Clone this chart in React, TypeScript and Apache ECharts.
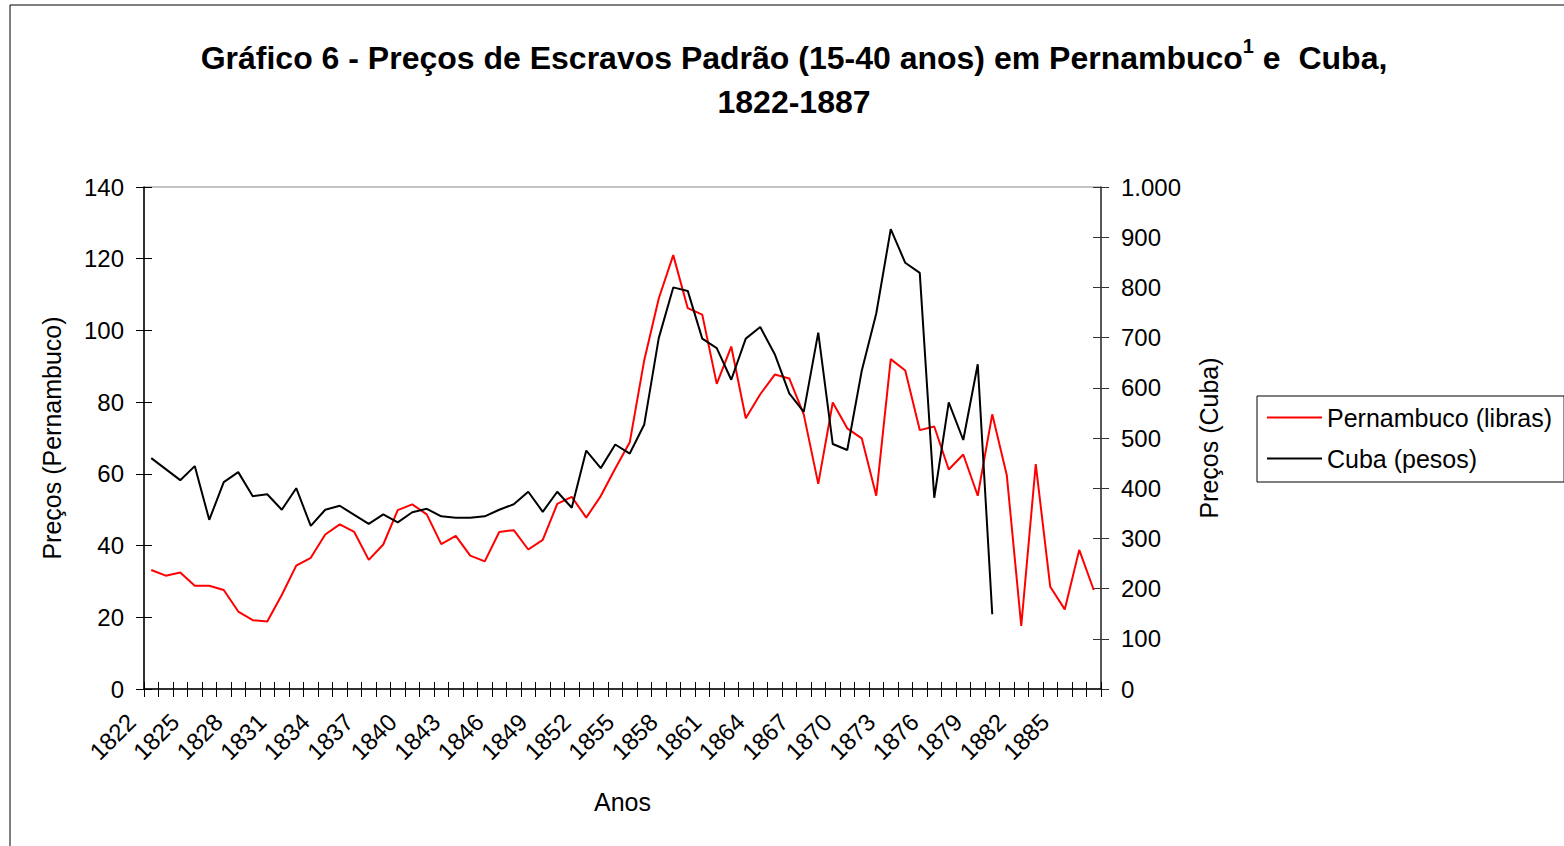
import React, { useEffect, useRef } from "react";
import * as echarts from "echarts";

const years: string[] = [];
for (let y = 1822; y <= 1887; y++) years.push(String(y));

const pernambuco = [
  33.2, 31.6, 32.5, 28.8, 28.8, 27.6, 21.6, 19.2, 18.8, 26.2,
  34.4, 36.6, 43.1, 45.9, 43.8, 36.0, 40.3, 49.9, 51.5, 48.7,
  40.4, 42.7, 37.2, 35.6, 43.8, 44.3, 38.9, 41.6, 51.6, 53.6,
  47.8, 53.8, 61.5, 68.8, 91.7, 108.9, 121.0, 106.2, 104.4, 85.1,
  95.5, 75.5, 82.2, 87.7, 86.6, 76.6, 57.2, 79.9, 72.7, 69.9,
  53.9, 92.0, 88.8, 72.2, 73.2, 61.2, 65.4, 53.9, 76.6, 59.7,
  17.6, 62.7, 28.5, 22.2, 38.8, 27.6,
];

const cuba = [
  460, 438, 416, 444, 337, 412, 432, 384, 388, 357,
  400, 325, 357, 365, 347, 329, 348, 332, 352, 359,
  344, 341, 341, 344, 357, 368, 393, 353, 393, 361,
  475, 440, 487, 469, 527, 699, 800, 793, 698, 679,
  616, 698, 721, 667, 589, 552, 710, 488, 476, 634,
  748, 916, 849, 829, 381, 571, 496, 647, 149,
];

const leftTicks = { min: 0, max: 140, interval: 20 };
const rightTicks = { min: 0, max: 1000, interval: 100 };

const FONT = "Liberation Sans, Arial, sans-serif";

export default function App() {
  const ref = useRef<HTMLDivElement>(null);
  useEffect(() => {
    if (!ref.current) return;
    const chart = echarts.init(ref.current, null, { renderer: "svg" });
    const axisLineBlack = { show: true, lineStyle: { color: "#000", width: 1.5 } };
    const option: any = {
      animation: false,
      backgroundColor: "#fff",
      textStyle: { fontFamily: FONT },
      title: {
        left: 789,
        top: 31,
        textAlign: "center",
        text:
          "{a|Gráfico 6 - Preços de Escravos Padrão (15-40 anos) em Pernambuco}{sup|1}{a| e  Cuba,}\n{a|1822-1887}",
        textStyle: {
          rich: {
            a: { fontFamily: FONT, fontSize: 32, fontWeight: "bold", color: "#000", lineHeight: 44 },
            sup: { fontFamily: FONT, fontSize: 20, fontWeight: "bold", color: "#000", lineHeight: 3, verticalAlign: "top" },
          },
        },
      },
      graphic: [
        {
          type: "rect",
          shape: { x: 10, y: 5, width: 1600, height: 900 },
          style: { fill: "none", stroke: "#000", lineWidth: 1 },
          silent: true,
        },
      ],
      legend: {
        orient: "vertical",
        left: 1257,
        top: 396,
        padding: [9, 12, 11, 10],
        borderColor: "#000",
        borderWidth: 1,
        itemWidth: 55,
        itemHeight: 2,
        itemGap: 16,
        icon: "rect",
        textStyle: { fontFamily: FONT, fontSize: 25, color: "#000" },
        data: ["Pernambuco (libras)", "Cuba (pesos)"],
      },
      grid: {
        left: 144,
        right: 463,
        top: 187,
        bottom: 157,
        show: true,
        borderColor: "#888",
        borderWidth: 1,
      },
      xAxis: [
        {
          type: "category",
          data: years,
          position: "bottom",
          boundaryGap: true,
          name: "Anos",
          nameLocation: "middle",
          nameGap: 100,
          nameTextStyle: { fontFamily: FONT, fontSize: 25, color: "#000" },
          axisLine: axisLineBlack,
          axisTick: { show: true, inside: false, length: 8, interval: 0, lineStyle: { color: "#000" } },
          axisLabel: {
            interval: 2,
            rotate: 45,
            margin: 9,
            padding: [0, 28, 0, 0],
            fontFamily: FONT,
            fontSize: 24,
            color: "#000",
          },
          splitLine: { show: false },
        },
        {
          type: "category",
          data: years,
          position: "bottom",
          boundaryGap: true,
          axisLine: { show: false },
          axisTick: { show: true, inside: true, length: 7, interval: 0, lineStyle: { color: "#000" } },
          axisLabel: { show: false },
          splitLine: { show: false },
        },
      ],
      yAxis: [
        {
          type: "value",
          position: "left",
          ...leftTicks,
          name: "Preços (Pernambuco)",
          nameLocation: "middle",
          nameGap: 80,
          nameRotate: 90,
          nameTextStyle: { fontFamily: FONT, fontSize: 25, color: "#000" },
          axisLine: axisLineBlack,
          axisTick: { show: true, inside: false, length: 8, lineStyle: { color: "#000" } },
          axisLabel: { fontFamily: FONT, fontSize: 24, color: "#000", margin: 20 },
          splitLine: { show: false },
        },
        {
          type: "value",
          position: "left",
          ...leftTicks,
          axisLine: { show: false },
          axisTick: { show: true, inside: true, length: 8, lineStyle: { color: "#000" } },
          axisLabel: { show: false },
          splitLine: { show: false },
        },
        {
          type: "value",
          position: "right",
          ...rightTicks,
          name: "Preços (Cuba)",
          nameLocation: "middle",
          nameGap: 95,
          nameRotate: 90,
          nameTextStyle: { fontFamily: FONT, fontSize: 25, color: "#000" },
          axisLine: { show: true, lineStyle: { color: "#333", width: 1.5 } },
          axisTick: { show: true, inside: false, length: 8, lineStyle: { color: "#333" } },
          axisLabel: {
            fontFamily: FONT,
            fontSize: 24,
            color: "#000",
            margin: 20,
            formatter: (v: number) => (v >= 1000 ? "1.000" : String(v)),
          },
          splitLine: { show: false },
        },
        {
          type: "value",
          position: "right",
          ...rightTicks,
          axisLine: { show: false },
          axisTick: { show: true, inside: true, length: 8, lineStyle: { color: "#333" } },
          axisLabel: { show: false },
          splitLine: { show: false },
        },
      ],
      series: [
        {
          name: "Pernambuco (libras)",
          type: "line",
          xAxisIndex: 0,
          yAxisIndex: 0,
          data: pernambuco,
          symbol: "none",
          lineStyle: { color: "#ff0000", width: 2 },
          itemStyle: { color: "#ff0000" },
        },
        {
          name: "Cuba (pesos)",
          type: "line",
          xAxisIndex: 0,
          yAxisIndex: 2,
          data: cuba,
          symbol: "none",
          lineStyle: { color: "#000", width: 2 },
          itemStyle: { color: "#000" },
        },
      ],
    };
    chart.setOption(option);
    return () => chart.dispose();
  }, []);
  return (
    <div
      ref={ref}
      style={{ position: "fixed", left: 0, top: 0, width: 1564, height: 846 }}
    />
  );
}
